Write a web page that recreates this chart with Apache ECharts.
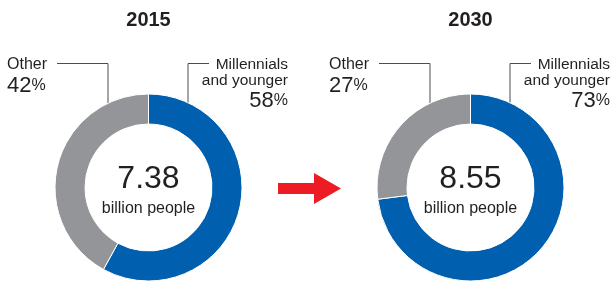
<!DOCTYPE html>
<html>
<head>
<meta charset="utf-8">
<script src="https://cdn.jsdelivr.net/npm/echarts@6/dist/echarts.min.js"></script>
<style>
  html, body { margin: 0; padding: 0; background: #fff; }
  #chart { width: 614px; height: 282px; }
</style>
</head>
<body>
<div id="chart"></div>
<script>
var years = ['2015', '2030'];
var totals = ['7.38', '8.55'];
var categories = ['Millennials\nand younger', 'Other'];
var share2015 = [58, 42];
var share2030 = [73, 27];
var shares = [share2015, share2030];

var colors = ['#0060af', '#939598'];
var centersX = [148.5, 470.5];
var centerY = 187.5;
var font = '"Liberation Sans", Arial, Helvetica, sans-serif';
var ink = '#231f20';

var myChart = echarts.init(document.getElementById('chart'));

var series = [];
var graphics = [];

function pctText(x, y, v, align) {
    return {
        type: 'text', x: x, y: y,
        style: {
            text: '{n|' + v + '}{p|%}',
            align: align, verticalAlign: 'middle',
            rich: {
                n: { font: '22px ' + font, fill: ink },
                p: { font: '16px ' + font, fill: ink }
            }
        }
    };
}

years.forEach(function (year, i) {
    var cx = centersX[i];
    var data = shares[i];

    series.push({
        name: year,
        type: 'pie',
        center: [cx, centerY],
        radius: [63.5, 93.5],
        startAngle: 90,
        clockwise: true,
        silent: true,
        label: { show: false },
        labelLine: { show: false },
        itemStyle: { borderColor: '#fff', borderWidth: 1 },
        data: categories.map(function (c, k) {
            return { name: c, value: data[k], itemStyle: { color: colors[k] } };
        })
    });

    // year title
    graphics.push({
        type: 'text', x: cx, y: 20,
        style: { text: year, font: 'bold 20px ' + font, fill: ink, align: 'center', verticalAlign: 'middle' }
    });
    // centre total
    graphics.push({
        type: 'text', x: cx, y: 179,
        style: { text: totals[i], font: '32px ' + font, fill: ink, align: 'center', verticalAlign: 'middle' }
    });
    graphics.push({
        type: 'text', x: cx, y: 209,
        style: { text: 'billion people', font: '16px ' + font, fill: ink, align: 'center', verticalAlign: 'middle' }
    });

    // leader lines
    graphics.push({
        type: 'polyline',
        shape: { points: [[cx - 91.5, 63.5], [cx - 40.5, 63.5], [cx - 40.5, 110]] },
        style: { stroke: '#4d4d4f', lineWidth: 1, fill: null }
    });
    graphics.push({
        type: 'polyline',
        shape: { points: [[cx + 60.5, 63.5], [cx + 39.5, 63.5], [cx + 39.5, 110]] },
        style: { stroke: '#4d4d4f', lineWidth: 1, fill: null }
    });

    // Other label
    graphics.push({
        type: 'text', x: cx - 141.5, y: 65,
        style: { text: 'Other', font: '16px ' + font, fill: ink, align: 'left', verticalAlign: 'middle' }
    });
    graphics.push(pctText(cx - 141.5, 86, data[1], 'left'));

    // Millennials label
    graphics.push({
        type: 'text', x: cx + 139.5, y: 65,
        style: { text: 'Millennials', font: '15.5px ' + font, fill: ink, align: 'right', verticalAlign: 'middle' }
    });
    graphics.push({
        type: 'text', x: cx + 139.5, y: 81,
        style: { text: 'and younger', font: '15.5px ' + font, fill: ink, align: 'right', verticalAlign: 'middle' }
    });
    graphics.push(pctText(cx + 139.5, 101, data[0], 'right'));
});

// red arrow between the two donuts
graphics.push({
    type: 'polygon',
    shape: { points: [[278, 183], [314, 183], [314, 173], [341, 188.5], [314, 204], [314, 194], [278, 194]] },
    style: { fill: '#ed1c24' }
});

var option = {
    animation: false,
    series: series,
    graphic: graphics
};

myChart.setOption(option);
</script>
</body>
</html>
